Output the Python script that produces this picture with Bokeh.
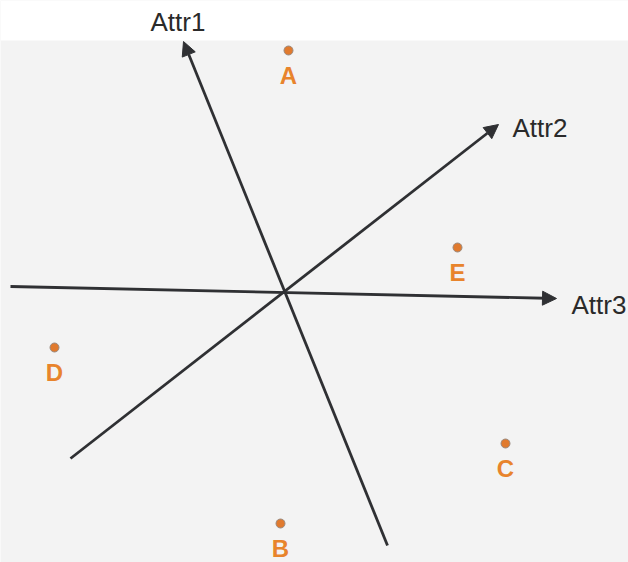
from bokeh.plotting import figure
from bokeh.models import Arrow, NormalHead, ColumnDataSource
from bokeh.embed import file_html
from bokeh.resources import INLINE
from bokeh.core.properties import value

# Attribute vectors (start -> end) in plane coordinates
attr_names = ["Attr1", "Attr2", "Attr3"]
attr_x0 = [387, 70, 10]
attr_y0 = [17, 104, 276]
attr_x1 = [183, 498, 556]
attr_y1 = [521, 438, 264]
attr_label_x = [150, 512, 571]
attr_label_y = [541, 435, 258]

# Objects projected onto the plane
obj_names = ["A", "B", "C", "D", "E"]
obj_x = [288, 280, 505, 54, 457]
obj_y = [512, 39, 119, 215, 315]

W, H = 628, 562
p = figure(width=W, height=H, x_range=(0, W), y_range=(0, H),
           output_backend="svg", toolbar_location=None,
           min_border=0, background_fill_color="#f3f3f3",
           border_fill_color="#f3f3f3", outline_line_color=None)
p.axis.visible = False
p.grid.visible = False

# white strip across the top edge
p.quad(left=[0], right=[W], bottom=[H - 40], top=[H],
       fill_color="white", line_color=None)

ink = "#2f3033"
for x0, y0, x1, y1 in zip(attr_x0, attr_y0, attr_x1, attr_y1):
    p.add_layout(Arrow(x_start=x0, y_start=y0, x_end=x1, y_end=y1,
                       line_color=ink, line_width=2.8,
                       end=NormalHead(size=14, fill_color=ink, line_color=ink)))

p.text(x=attr_label_x, y=attr_label_y, text=attr_names,
       text_font=value("Liberation Sans"), text_font_size="26px",
       text_color="#2a2a2a", text_align="left", text_baseline="middle")

src = ColumnDataSource(dict(x=obj_x, y=obj_y, name=obj_names,
                            ly=[v - 25 for v in obj_y]))
p.scatter(x="x", y="y", source=src, size=9, fill_color="#e07a2e",
          line_color="#9a8a80", line_width=1)
p.text(x="x", y="ly", text="name", source=src,
       text_font=value("Liberation Sans"), text_font_size="24px",
       text_font_style="bold", text_color="#e8842c",
       text_align="center", text_baseline="middle")

open("out.html", "w").write(file_html(p, INLINE))
